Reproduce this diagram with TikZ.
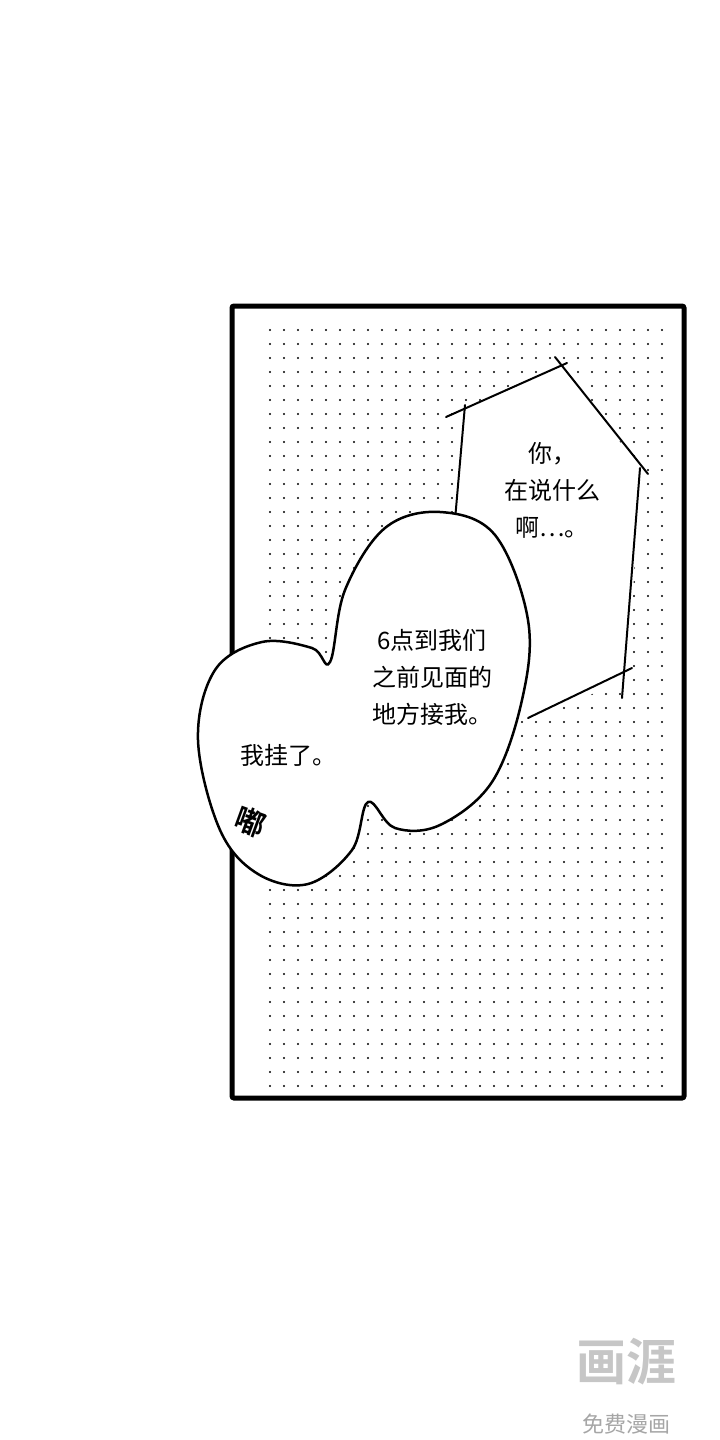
\documentclass[tikz,border=0pt]{standalone}
\usepackage{fontspec}
\newfontfamily\cjk{Noto Sans CJK SC}
\newfontfamily\cjkb{Noto Sans CJK SC Bold}
\begin{document}
\begin{tikzpicture}[x=1pt,y=-1pt,
  txt/.style={font=\cjk\fontsize{24}{37}\selectfont,align=center,text=black},
  ln/.style={line width=2pt,line cap=round}]
\useasboundingbox (0,0) rectangle (720,1440);
\fill[white] (0,0) rectangle (720,1440);
% panel
\node[draw,line width=5pt,rounded corners=2pt,minimum width=452pt,minimum height=792pt,inner sep=0pt] (panel) at (458,702) {};
\foreach \x in {270,284,...,664}{\foreach \y in {330,344,...,1086}{\fill (\x,\y) circle (1.2pt);}}
% jagged box
\fill[white] (463,410)--(565,365)--(640,470)--(628,680)--(525,720)--(455,520)--cycle;
\draw[ln] (446,417)--(567,363);
\draw[ln] (555,357)--(648,474);
\draw[ln] (640,468)--(622,698);
\draw[ln] (465,405)--(455,520);
\draw[ln] (528,718)--(632,668);
% bubbles union
\def\bub{plot[smooth cycle,tension=0.6] coordinates{(330,662)(345,590)(385,528)(440,512)(495,535)(528,620)(522,700)(492,782)(440,825)(395,828)(368,802)(352,850)(308,884)(258,874)(220,830)(198,740)(215,670)(262,642)(312,648)}}
\draw[line width=2.5pt,fill=white] \bub;
% texts
\node[txt] (t1) at (552,490) {你，\\在说什么\\啊…。};
\node[txt] (t2) at (432,677) {6点到我们\\之前见面的\\地方接我。};
\node[txt] (t3) at (288,755) {我挂了。};
\node[font=\cjkb\fontsize{30}{30}\selectfont,rotate=-20] (t4) at (250,822) {嘟};
% watermark
\node[font=\cjkb\fontsize{50}{50}\selectfont,text=gray!45] (w1) at (626,1362) {画涯};
\node[font=\cjk\fontsize{22}{22}\selectfont,text=gray!70] (w2) at (626,1424) {免费漫画};
\end{tikzpicture}
\end{document}
